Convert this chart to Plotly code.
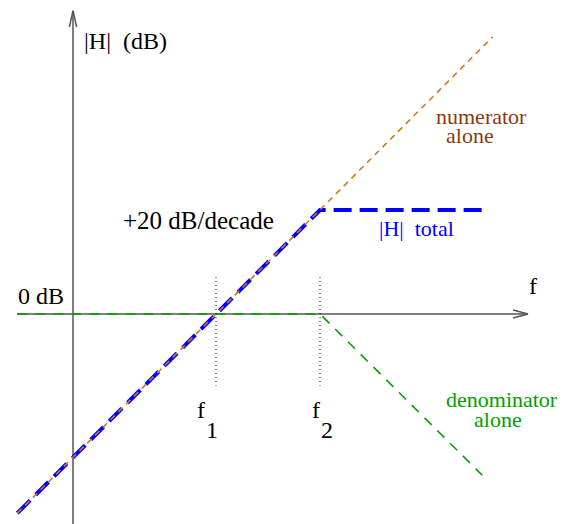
import plotly.graph_objects as go

# x in decades relative to f1 (f1 = 0, f2 = 1); y in dB
num_x = [-1.91, 2.66]
num_y = [-38.3, 53.3]
tot_x = [-1.91, 1.0, 2.56]
tot_y = [-38.3, 20.0, 20.0]
den_x = [-1.91, 1.0, 2.56]
den_y = [0.0, 0.0, -31.0]
f1_x = 0.0
f2_x = 1.0
vaxis_x = -1.375
haxis_end = 3.0

X0, X1 = -216 / 104, 357 / 104
Y0, Y1 = -210 / 5.2, 314 / 5.2

fig = go.Figure()
fig.add_trace(go.Scatter(x=den_x, y=den_y, mode="lines",
                         line=dict(color="#00a000", width=1.6, dash="10px,8px"),
                         hoverinfo="skip"))
fig.add_trace(go.Scatter(x=tot_x, y=tot_y, mode="lines",
                         line=dict(color="#0000ff", width=4, dash="18px,8px"),
                         hoverinfo="skip"))
fig.add_trace(go.Scatter(x=num_x, y=num_y, mode="lines",
                         line=dict(color="#d4761a", width=1.6, dash="6px,5px"),
                         hoverinfo="skip"))

axc = "#555555"
shapes = [
    # vertical axis
    dict(type="line", x0=vaxis_x, x1=vaxis_x, y0=Y0, y1=58.3, line=dict(color=axc, width=1.5), layer="below"),
    dict(type="line", x0=vaxis_x, x1=vaxis_x - 0.035, y0=58.3, y1=55.2, line=dict(color=axc, width=1.5), layer="below"),
    dict(type="line", x0=vaxis_x, x1=vaxis_x + 0.035, y0=58.3, y1=55.2, line=dict(color=axc, width=1.5), layer="below"),
    # horizontal axis
    dict(type="line", x0=-1.913, x1=haxis_end, y0=0, y1=0, line=dict(color=axc, width=1.5), layer="below"),
    dict(type="line", x0=haxis_end, x1=haxis_end - 0.144, y0=0, y1=0.77, line=dict(color=axc, width=1.5), layer="below"),
    dict(type="line", x0=haxis_end, x1=haxis_end - 0.144, y0=0, y1=-0.77, line=dict(color=axc, width=1.5), layer="below"),
    # dotted markers
    dict(type="line", x0=f1_x, x1=f1_x, y0=7.1, y1=-13.8, line=dict(color="black", width=1, dash="1px,3px")),
    dict(type="line", x0=f2_x, x1=f2_x, y0=7.1, y1=-13.8, line=dict(color="black", width=1, dash="1px,3px")),
]

def px2x(p):
    return (p - 216) / 104

def py2y(p):
    return (314 - p) / 5.2

FONT = "Liberation Serif, Times New Roman, serif"

def ann(text, px, py, color="black", size=24, xanchor="left"):
    return dict(text=text, x=px2x(px), y=py2y(py), xref="x", yref="y",
                xanchor=xanchor, yanchor="middle", showarrow=False,
                font=dict(family=FONT, size=size, color=color))

annotations = [
    ann("|H|  (dB)", 82, 41, size=24),
    ann("+20 dB/decade", 121, 220, size=25),
    ann("numerator", 434, 116, color="#8b3a0f", size=22),
    ann("alone", 444, 135, color="#8b3a0f", size=22),
    ann("|H|  total", 377, 228, color="#0000ff", size=22),
    ann("f", 533, 286, size=24, xanchor="center"),
    ann("0 dB", 16, 296, size=24),
    ann("f", 201, 410, size=24, xanchor="center"),
    ann("1", 212, 430, size=24, xanchor="center"),
    ann("f", 316, 410, size=24, xanchor="center"),
    ann("2", 327, 430, size=24, xanchor="center"),
    ann("denominator", 502, 399, color="#00a000", size=22, xanchor="center"),
    ann("alone", 498, 419, color="#00a000", size=22, xanchor="center"),
]

fig.update_layout(
    width=573, height=524,
    margin=dict(l=0, r=0, t=0, b=0),
    paper_bgcolor="white", plot_bgcolor="white",
    showlegend=False,
    xaxis=dict(range=[X0, X1], visible=False, fixedrange=True),
    yaxis=dict(range=[Y0, Y1], visible=False, fixedrange=True),
    shapes=shapes, annotations=annotations,
)
fig.write_html("out.html", config={"displayModeBar": False},
               post_script="document.body.style.margin='0px';document.body.style.overflow='hidden';")
